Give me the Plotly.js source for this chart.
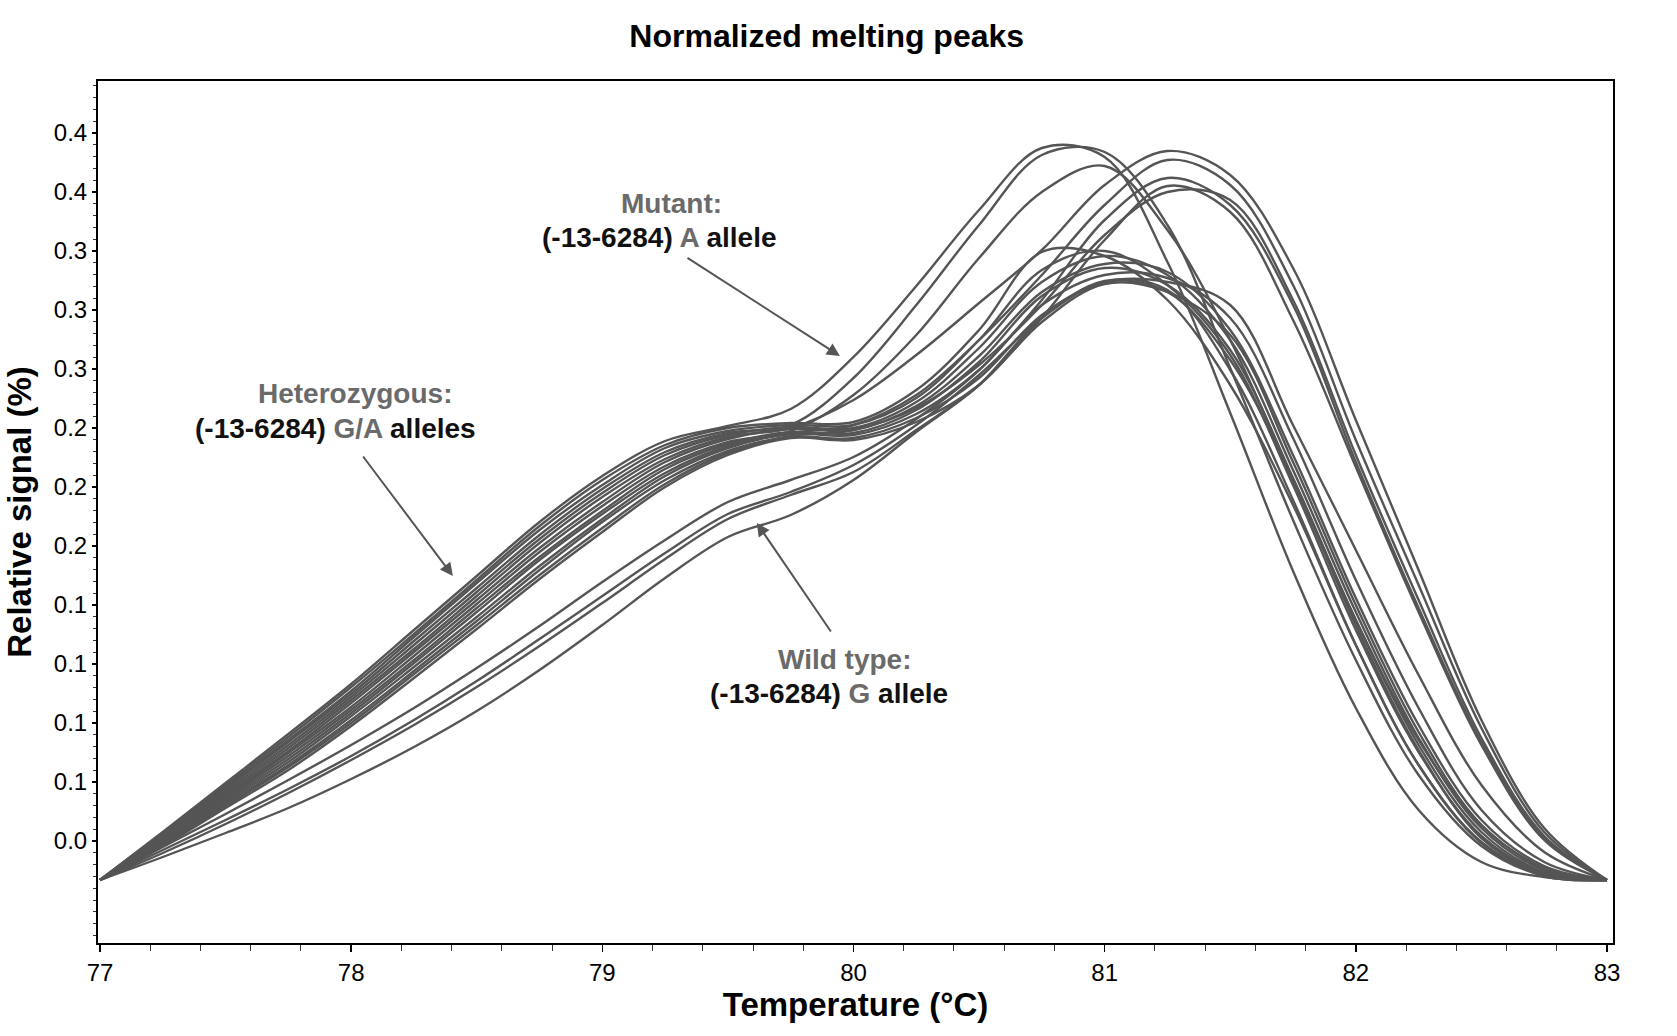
<!DOCTYPE html>
<html>
<head>
<meta charset="utf-8">
<script src="https://cdn.plot.ly/plotly-3.0.1.min.js"></script>
<style>
  body { margin: 0; background: #fff; }
  #myPlot { width: 1677px; height: 1036px; }
</style>
</head>
<body>
<div id="myPlot"></div>
<script>
// temperature grid (°C) the curves were read at
const temps = [77.00, 77.25, 77.50, 77.75, 78.00, 78.25, 78.50, 78.75, 79.00, 79.25, 79.50, 79.75,
               80.00, 80.25, 80.50, 80.75, 81.00, 81.25, 81.50, 81.75, 82.00, 82.25, 82.50, 82.75, 83.00]

// mutant (A allele): early tall peak
const mutant1 = [0, 0.024, 0.0485, 0.073, 0.098, 0.125, 0.152, 0.179, 0.202, 0.2195, 0.227, 0.2355, 0.2615, 0.297, 0.335, 0.366, 0.3615, 0.309, 0.2335, 0.1545, 0.086, 0.035, 0.009, 0.0015, 0]
const mutant2 = [0, 0.0225, 0.0455, 0.069, 0.093, 0.1195, 0.146, 0.1725, 0.1955, 0.214, 0.2235, 0.2275, 0.251, 0.2875, 0.3275, 0.3625, 0.364, 0.3275, 0.256, 0.18, 0.11, 0.0525, 0.017, 0.002, 0]
const mutant3 = [0, 0.02, 0.0415, 0.0635, 0.0865, 0.112, 0.138, 0.164, 0.187, 0.207, 0.219, 0.2245, 0.2425, 0.2725, 0.311, 0.344, 0.357, 0.325, 0.27, 0.2, 0.13, 0.07, 0.0275, 0.006, 0]

// wild type (G allele): late peak
const wild1 = [0, 0.0215, 0.0435, 0.066, 0.09, 0.1155, 0.142, 0.1685, 0.1915, 0.2105, 0.2215, 0.226, 0.24, 0.2625, 0.2885, 0.315, 0.3475, 0.3645, 0.3525, 0.306, 0.23, 0.155, 0.08, 0.026, 0]
const wild2 = [0, 0.019, 0.04, 0.0605, 0.0835, 0.1085, 0.134, 0.16, 0.183, 0.2035, 0.217, 0.2235, 0.2275, 0.2425, 0.27, 0.3025, 0.3375, 0.36, 0.3475, 0.2975, 0.22, 0.1475, 0.076, 0.024, 0]
const wild3 = [0, 0.0165, 0.033, 0.05, 0.0675, 0.086, 0.106, 0.127, 0.149, 0.17, 0.189, 0.2, 0.2115, 0.2305, 0.255, 0.29, 0.33, 0.351, 0.3375, 0.2875, 0.209, 0.136, 0.069, 0.021, 0]
const wild4 = [0, 0.0135, 0.028, 0.0435, 0.06, 0.0775, 0.0965, 0.117, 0.1385, 0.1605, 0.1805, 0.1925, 0.204, 0.225, 0.2475, 0.281, 0.32, 0.347, 0.334, 0.28, 0.2065, 0.134, 0.0675, 0.02, 0]
const wild5 = [0, 0.018, 0.038, 0.0575, 0.08, 0.1045, 0.1295, 0.155, 0.179, 0.2, 0.2145, 0.222, 0.225, 0.236, 0.2575, 0.2875, 0.3225, 0.344, 0.34, 0.29, 0.2125, 0.14, 0.071, 0.022, 0]
const wild6 = [0, 0.015, 0.03, 0.0455, 0.062, 0.08, 0.0995, 0.1205, 0.142, 0.1635, 0.183, 0.194, 0.2075, 0.2275, 0.2525, 0.281, 0.299, 0.294, 0.26, 0.2, 0.1275, 0.065, 0.021, 0.003, 0]
const wild7 = [0, 0.0115, 0.0235, 0.036, 0.0505, 0.0665, 0.0845, 0.105, 0.1275, 0.151, 0.1715, 0.1825, 0.2, 0.224, 0.2475, 0.281, 0.2995, 0.295, 0.255, 0.19, 0.1175, 0.0575, 0.0185, 0.002, 0]

// heterozygous (G/A alleles): high shoulder, lower middle peak
const het1 = [0, 0.0235, 0.0475, 0.0715, 0.0965, 0.123, 0.15, 0.177, 0.2, 0.2175, 0.226, 0.2285, 0.229, 0.245, 0.275, 0.314, 0.312, 0.29, 0.2475, 0.1875, 0.1175, 0.0575, 0.019, 0.0025, 0]
const het2 = [0, 0.023, 0.0465, 0.07, 0.0945, 0.1215, 0.1485, 0.175, 0.1975, 0.216, 0.2245, 0.2275, 0.2275, 0.241, 0.27, 0.305, 0.3145, 0.2975, 0.2625, 0.1975, 0.125, 0.064, 0.022, 0.0035, 0]
const het3 = [0, 0.022, 0.0445, 0.0675, 0.0915, 0.1175, 0.144, 0.1705, 0.1935, 0.2125, 0.2225, 0.2265, 0.226, 0.239, 0.266, 0.299, 0.312, 0.3025, 0.27, 0.205, 0.134, 0.071, 0.026, 0.005, 0]
const het4 = [0, 0.0205, 0.0425, 0.0645, 0.0885, 0.114, 0.14, 0.166, 0.189, 0.209, 0.2205, 0.2255, 0.225, 0.237, 0.262, 0.294, 0.308, 0.304, 0.275, 0.2125, 0.141, 0.0775, 0.03, 0.007, 0]
const het5 = [0, 0.0195, 0.041, 0.062, 0.085, 0.11, 0.136, 0.1615, 0.1845, 0.2055, 0.218, 0.224, 0.2235, 0.235, 0.259, 0.292, 0.306, 0.2975, 0.265, 0.201, 0.13, 0.0675, 0.024, 0.004, 0]
const het6 = [0, 0.0185, 0.039, 0.059, 0.082, 0.1065, 0.1315, 0.157, 0.1805, 0.202, 0.216, 0.223, 0.2225, 0.233, 0.255, 0.2875, 0.3025, 0.301, 0.281, 0.221, 0.15, 0.086, 0.035, 0.009, 0]
const het7 = [0, 0.0175, 0.037, 0.0565, 0.0785, 0.103, 0.1275, 0.1525, 0.176, 0.198, 0.2135, 0.2215, 0.221, 0.231, 0.251, 0.2825, 0.299, 0.299, 0.2875, 0.2275, 0.165, 0.1025, 0.0475, 0.014, 0]
const het8 = [0, 0.017, 0.036, 0.055, 0.077, 0.101, 0.1255, 0.1505, 0.174, 0.1965, 0.2125, 0.221, 0.22, 0.229, 0.2475, 0.279, 0.298, 0.294, 0.2725, 0.209, 0.1375, 0.074, 0.0275, 0.006, 0]

// y ticks as printed (labels are rounded to one decimal in the original)
const yTickVals = [0.0195, 0.049, 0.0785, 0.108, 0.1375, 0.167, 0.1965, 0.226, 0.2555, 0.285, 0.3145, 0.344, 0.3735]
const yTickText = ['0.0', '0.1', '0.1', '0.1', '0.1', '0.2', '0.2', '0.2', '0.3', '0.3', '0.3', '0.4', '0.4']

const allCurves = [wild7, wild6, wild4, wild3, het8, het7, het6, het5, het4, het3, het2, het1,
                   wild5, wild2, wild1, mutant3, mutant2, mutant1]

const curveColor = '#555555'
const boldFont = 'Liberation Sans, Arial, Helvetica, sans-serif'
const tickFont = 'Liberation Sans Narrow, Arial Narrow, Liberation Sans, Arial, sans-serif'

function makeTrace(values){
    return {
        type: 'scatter',
        mode: 'lines',
        x: temps,
        y: values,
        line: { color: curveColor, width: 2.4, shape: 'spline', smoothing: 1 },
        hoverinfo: 'skip',
        showlegend: false
    }
}

function label(x, y, html){
    return {
        x: x, y: y, xref: 'x', yref: 'y',
        text: html, showarrow: false,
        xanchor: 'center', yanchor: 'middle',
        font: { family: boldFont, size: 28, color: '#111' }
    }
}

function arrow(x, y, ax, ay){
    return {
        x: x, y: y, ax: ax, ay: ay,
        xref: 'x', yref: 'y', axref: 'x', ayref: 'y',
        text: '', showarrow: true,
        arrowhead: 2, arrowsize: 1.3, arrowwidth: 2, arrowcolor: '#555'
    }
}

const grey = (s) => `<span style="color:#6a6a6a">${s}</span>`

function graph(){
    const data = allCurves.map(makeTrace)

    const layout = {
        width: 1677,
        height: 1036,
        paper_bgcolor: '#fff',
        plot_bgcolor: '#fff',
        margin: { l: 98, r: 64, t: 81, b: 93 },
        title: {
            text: '<b>Normalized melting peaks</b>',
            font: { family: boldFont, size: 32, color: '#000' },
            x: 0.481, xref: 'paper', xanchor: 'center',
            y: 0.965, yref: 'container', yanchor: 'middle'
        },
        xaxis: {
            range: [76.992, 83.024],
            tickmode: 'linear', tick0: 77, dtick: 1,
            ticks: 'outside', ticklen: 7, tickwidth: 1.5, tickcolor: '#000',
            minor: { tick0: 77, dtick: 0.2, ticks: 'outside', ticklen: 6, tickwidth: 1, tickcolor: '#333' },
            showgrid: false, zeroline: false,
            showline: true, mirror: true, linecolor: '#000', linewidth: 2,
            tickfont: { family: tickFont, size: 24, color: '#000' },
            title: { text: '<b>Temperature (°C)</b>', font: { family: boldFont, size: 33, color: '#000' }, standoff: 6 }
        },
        yaxis: {
            range: [-0.0315, 0.3995],
            tickmode: 'array', tickvals: yTickVals, ticktext: yTickText,
            ticks: 'outside', ticklen: 4, tickwidth: 1.5, tickcolor: '#000',
            minor: { tick0: 0.0195, dtick: 0.0059, ticks: 'outside', ticklen: 3, tickwidth: 1, tickcolor: '#333' },
            showgrid: false, zeroline: false,
            showline: true, mirror: true, linecolor: '#000', linewidth: 2,
            tickfont: { family: tickFont, size: 24, color: '#000' },
            title: { text: '<b>Relative signal (%)</b>', font: { family: boldFont, size: 33, color: '#000' }, standoff: 12 }
        },
        annotations: [
            label(79.277, 0.3385, '<b>' + grey('Mutant:') + '</b>'),
            label(79.229, 0.3215, '<b>(-13-6284) ' + grey('A') + ' allele</b>'),
            arrow(79.946, 0.262, 79.333, 0.3115),

            label(78.015, 0.2435, '<b>' + grey('Heterozygous:') + '</b>'),
            label(77.939, 0.226, '<b>(-13-6284) ' + grey('G/A') + ' alleles</b>'),
            arrow(78.405, 0.152, 78.043, 0.2125),

            label(79.966, 0.1105, '<b>' + grey('Wild type:') + '</b>'),
            label(79.902, 0.0935, '<b>(-13-6284) ' + grey('G') + ' allele</b>'),
            arrow(79.615, 0.1785, 79.914, 0.1235)
        ],
        hovermode: false
    }

    Plotly.newPlot('myPlot', data, layout, { displayModeBar: false, staticPlot: true })
}

graph()
</script>
</body>
</html>
